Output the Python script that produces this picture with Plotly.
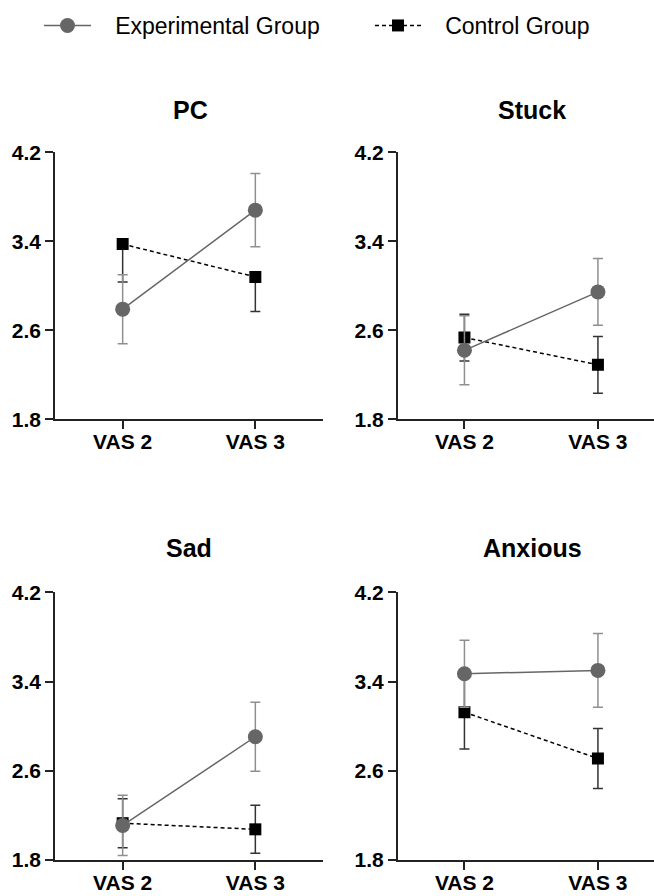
import plotly.graph_objects as go

phases = ["VAS 2", "VAS 3"]
panel_titles = ["PC", "Stuck", "Sad", "Anxious"]

# Experimental group means and SE
pc_exp = [2.79, 3.68]
stuck_exp = [2.42, 2.945]
sad_exp = [2.11, 2.905]
anx_exp = [3.47, 3.50]
pc_exp_err = [0.31, 0.33]
stuck_exp_err = [0.31, 0.30]
sad_exp_err = [0.27, 0.31]
anx_exp_err = [0.30, 0.33]

# Control group means and SE (upper / lower)
pc_ctl = [3.375, 3.08]
stuck_ctl = [2.535, 2.29]
sad_ctl = [2.13, 2.075]
anx_ctl = [3.125, 2.71]
pc_ctl_up = [0.0, 0.0]
pc_ctl_dn = [0.34, 0.31]
stuck_ctl_err = [0.21, 0.255]
sad_ctl_err = [0.22, 0.215]
anx_ctl_err = [0.33, 0.27]

y_ticks = [1.8, 2.6, 3.4, 4.2]

exp_means = [pc_exp, stuck_exp, sad_exp, anx_exp]
exp_errs = [pc_exp_err, stuck_exp_err, sad_exp_err, anx_exp_err]
ctl_means = [pc_ctl, stuck_ctl, sad_ctl, anx_ctl]
ctl_up = [pc_ctl_up, stuck_ctl_err, sad_ctl_err, anx_ctl_err]
ctl_dn = [pc_ctl_dn, stuck_ctl_err, sad_ctl_err, anx_ctl_err]

W, H = 654, 896
x_domains = [[55 / W, 323 / W], [397.7 / W, 1.0]]
x_ranges = [[-0.51, 1.51], [-0.5, 1.42]]
y_domains = [[1 - 419.3 / H, 1 - 152.3 / H], [1 - 860 / H, 1 - 592.3 / H]]

EXP_COL = "#666666"
EXP_ERR = "#8f8f8f"
CTL_COL = "#000000"
CTL_ERR = "#333333"
AX_COL = "#222222"

fig = go.Figure()
FONT = "Liberation Sans, Arial, sans-serif"
NB = "\u00a0"

for i in range(4):
    row, col = divmod(i, 2)
    ax = "" if i == 0 else str(i + 1)
    xa, ya = "x" + ax, "y" + ax
    fig.add_trace(go.Scatter(
        x=phases, y=ctl_means[i], xaxis=xa, yaxis=ya,
        mode="lines+markers", name=NB * 3 + "Control Group",
        legend="legend2", showlegend=(i == 0),
        line=dict(color=CTL_COL, width=1.5, dash="4px,3px"),
        marker=dict(symbol="square", size=12, color=CTL_COL),
        error_y=dict(type="data", symmetric=False, array=ctl_up[i], arrayminus=ctl_dn[i],
                     color=CTL_ERR, thickness=1.5, width=5),
    ))
    fig.add_trace(go.Scatter(
        x=phases, y=exp_means[i], xaxis=xa, yaxis=ya,
        mode="lines+markers", name=NB * 3 + "Experimental Group",
        legend="legend", showlegend=(i == 0),
        line=dict(color=EXP_COL, width=1.5),
        marker=dict(symbol="circle", size=15, color=EXP_COL),
        error_y=dict(type="data", array=exp_errs[i], color=EXP_ERR, thickness=1.5, width=5),
    ))
    common_x = dict(
        domain=x_domains[col], range=x_ranges[col], anchor=ya, automargin=False,
        type="category", showline=True, linecolor=AX_COL, linewidth=1.6,
        ticks="outside", ticklen=8, tickwidth=1.6, tickcolor=AX_COL,
        showgrid=False, zeroline=False, fixedrange=True, ticklabelstandoff=-5,
        tickfont=dict(family=FONT, size=21, color="#000", weight="bold"),
    )
    common_y = dict(
        domain=y_domains[row], range=[1.8, 4.2], anchor=xa, automargin=False,
        showline=True, linecolor=AX_COL, linewidth=1.6,
        ticks="outside", ticklen=8, tickwidth=1.6, tickcolor=AX_COL,
        tickvals=y_ticks, ticktext=[f"{v:.1f}" for v in y_ticks],
        showgrid=False, zeroline=False, fixedrange=True, ticklabelstandoff=0,
        tickfont=dict(family=FONT, size=21, color="#000", weight="bold"),
    )
    fig.update_layout(**{"xaxis" + ax: common_x, "yaxis" + ax: common_y})

title_pos = [(190, 110), (532, 110), (189, 548), (532, 548)]
for t, (px, py) in zip(panel_titles, title_pos):
    fig.add_annotation(
        text=t, x=px / W, y=1 - py / H, xref="paper", yref="paper",
        xanchor="center", yanchor="middle", showarrow=False,
        font=dict(family=FONT, size=25, color="#000", weight="bold"),
    )

legend_font = dict(family=FONT, size=23, color="#000")
fig.update_layout(
    width=W, height=H,
    margin=dict(l=0, r=0, t=0, b=0, pad=0),
    paper_bgcolor="white", plot_bgcolor="white",
    showlegend=True,
    legend=dict(x=39 / W, y=1 - 4 / H, xanchor="left", yanchor="top",
                font=legend_font, itemwidth=47, bgcolor="rgba(0,0,0,0)"),
    legend2=dict(x=370 / W, y=1 - 4 / H, xanchor="left", yanchor="top",
                 font=legend_font, itemwidth=46, bgcolor="rgba(0,0,0,0)"),
)

fig.write_html(
    "out.html",
    config={"displayModeBar": False},
    post_script="document.body.style.margin='0';document.body.style.overflow='hidden';",
)
